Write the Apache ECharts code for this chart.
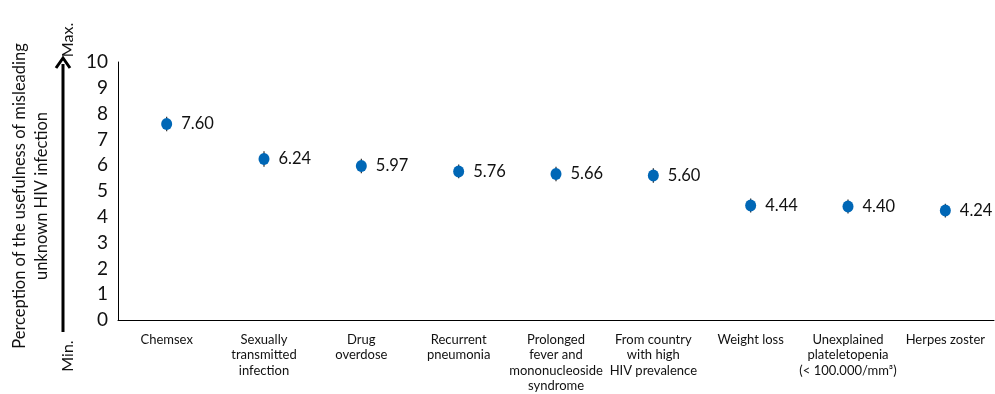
<!DOCTYPE html>
<html>
<head>
<meta charset="utf-8">
<script src="https://cdn.jsdelivr.net/npm/echarts@6/dist/echarts.min.js"></script>
<style>
  html, body { margin: 0; padding: 0; background: #fff; }
  #chart { width: 995px; height: 394px; }
</style>
</head>
<body>
<div id="chart"></div>
<script>
// Clinical situations rated for usefulness in detecting unknown HIV infection
const categories = [
  'Chemsex',
  'Sexually\ntransmitted\ninfection',
  'Drug\noverdose',
  'Recurrent\npneumonia',
  'Prolonged\nfever and\nmononucleoside\nsyndrome',
  'From country\nwith high\nHIV prevalence',
  'Weight loss',
  'Unexplained\nplateletopenia\n(< 100.000/mm³)',
  'Herpes zoster'
];
const meanScores = [7.60, 6.24, 5.97, 5.76, 5.66, 5.60, 4.44, 4.40, 4.24];
const lowerBounds = [7.32, 5.94, 5.69, 5.49, 5.38, 5.32, 4.17, 4.13, 3.97];
const upperBounds = [7.88, 6.54, 6.25, 6.03, 5.94, 5.88, 4.71, 4.67, 4.51];
const yTicks = [0, 1, 2, 3, 4, 5, 6, 7, 8, 9, 10];

const FONT = 'Lato';
const chart = echarts.init(document.getElementById('chart'));

chart.setOption({
  animation: false,
  textStyle: { fontFamily: FONT },
  grid: { left: 118, right: 1, top: 62, bottom: 71, containLabel: false },
  xAxis: {
    type: 'category',
    data: categories,
    boundaryGap: true,
    axisLine: { lineStyle: { color: '#000', width: 1 } },
    axisTick: { show: false },
    axisLabel: {
      interval: 0,
      color: '#111',
      fontSize: 13,
      lineHeight: 15.5,
      margin: 12,
      align: 'center',
      verticalAlign: 'top'
    }
  },
  yAxis: {
    type: 'value',
    min: yTicks[0],
    max: yTicks[yTicks.length - 1],
    interval: 1,
    splitLine: { show: false },
    axisLine: { show: true, lineStyle: { color: '#000', width: 1 } },
    axisTick: { show: false },
    axisLabel: { color: '#111', fontSize: 19, margin: 10 }
  },
  series: [
    {
      // vertical error whiskers
      type: 'custom',
      z: 2,
      data: categories.map((c, i) => [i, lowerBounds[i], upperBounds[i]]),
      renderItem: function (params, api) {
        const lo = api.coord([api.value(0), api.value(1)]);
        const hi = api.coord([api.value(0), api.value(2)]);
        return {
          type: 'line',
          shape: { x1: lo[0], y1: lo[1], x2: hi[0], y2: hi[1] },
          style: { stroke: '#2b2b2b', lineWidth: 1.2 }
        };
      }
    },
    {
      type: 'scatter',
      z: 3,
      data: meanScores,
      symbol: 'circle',
      symbolSize: [11, 12],
      itemStyle: { color: '#0067b6', opacity: 1 },
      label: {
        show: true,
        position: 'right',
        distance: 9,
        color: '#111',
        fontSize: 16.5,
        formatter: p => p.value.toFixed(2)
      }
    }
  ],
  graphic: [
    {
      type: 'line',
      shape: { x1: 63, y1: 332, x2: 63, y2: 64 },
      style: { stroke: '#000', lineWidth: 3 }
    },
    {
      type: 'polyline',
      shape: { points: [[56, 68], [63, 58], [70, 68]] },
      style: { stroke: '#000', lineWidth: 3, fill: null }
    },
    {
      type: 'text',
      x: 68, y: 40, rotation: Math.PI / 2,
      style: { text: 'Max.', font: '16px ' + FONT, fill: '#111', align: 'center', verticalAlign: 'middle' }
    },
    {
      type: 'text',
      x: 68, y: 356, rotation: Math.PI / 2,
      style: { text: 'Min.', font: '16px ' + FONT, fill: '#111', align: 'center', verticalAlign: 'middle' }
    },
    {
      type: 'text',
      x: 31, y: 196, rotation: Math.PI / 2,
      style: {
        text: 'Perception of the usefulness of misleading\nunknown HIV infection',
        font: '16.5px ' + FONT, lineHeight: 22, fill: '#111',
        align: 'center', verticalAlign: 'middle'
      }
    }
  ]
});
</script>
</body>
</html>
